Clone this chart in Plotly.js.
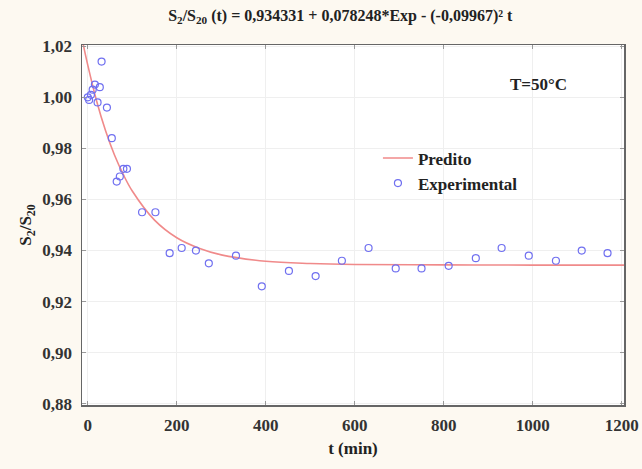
<!DOCTYPE html>
<html><head><meta charset="utf-8">
<script src="https://cdn.plot.ly/plotly-3.0.1.min.js"></script>
<style>html,body{margin:0;padding:0;background:#fdf9f1;}</style>
</head><body>
<div id="chart" style="width:642px;height:469px;"></div>
<script>
// Experimental points
const expT = [0, 3, 7, 11, 16, 22, 27, 31, 43, 54, 65, 72, 80, 88, 122, 152, 184, 211, 243, 272, 333, 391, 452, 512, 571, 631, 692, 750, 811, 872, 930, 991, 1052, 1110, 1168];
const expY = [1.000, 0.999, 1.001, 1.003, 1.005, 0.998, 1.004, 1.014, 0.996, 0.984, 0.967, 0.969, 0.972, 0.972, 0.955, 0.955, 0.939, 0.941, 0.940, 0.935, 0.938, 0.926, 0.932, 0.930, 0.936, 0.941, 0.933, 0.933, 0.934, 0.937, 0.941, 0.938, 0.936, 0.940, 0.939];
// Predicted curve
const predT = [-13, 0, 20, 40, 60, 80, 100, 150, 200, 250, 300, 400, 500, 600, 800, 1000, 1205];
const predY = [1.0230, 1.0126, 0.9985, 0.9869, 0.9774, 0.9697, 0.9633, 0.9519, 0.9450, 0.9409, 0.9383, 0.9358, 0.9349, 0.9345, 0.9344, 0.9343, 0.9343];
const xTicks = [0, 200, 400, 600, 800, 1000, 1200];
const yTicks = [0.88, 0.90, 0.92, 0.94, 0.96, 0.98, 1.00, 1.02];

const serif = "Liberation Serif, Times New Roman, serif";
const traces = [
  {x: predT, y: predY, mode: 'lines', name: 'Predito', line: {color: '#f08a8a', width: 1.6, shape: 'spline'}},
  {x: expT, y: expY, mode: 'markers', name: 'Experimental',
   marker: {symbol: 'circle-open', size: 7, color: '#7070f0', line: {width: 1.2}}}
];
const axisCommon = {
  showline: true, linecolor: '#666', linewidth: 1.5, mirror: 'ticks',
  ticks: 'inside', ticklen: 4, tickcolor: '#999',
  showgrid: true, gridcolor: '#efefef', zeroline: false,
  tickfont: {family: serif, size: 17, color: '#333', weight: 'bold'}
};
const layout = {
  width: 642, height: 469,
  paper_bgcolor: '#fdf9f1', plot_bgcolor: '#ffffff',
  separators: ', ',
  margin: {l: 82, r: 18, t: 45, b: 64},
  title: {text: 'S<sub>2</sub>/S<sub>20</sub> (t) = 0,934331 + 0,078248*Exp - (-0,09967)² t',
    font: {family: serif, size: 16, color: '#222', weight: 'bold'}, x: 0.53, xanchor: 'center', y: 0.968, yanchor: 'middle'},
  xaxis: Object.assign({}, axisCommon, {range: [-13, 1205], tickvals: xTicks, ticktext: xTicks.map(String),
    ticklabelstandoff: 4,
    title: {text: 't (min)', font: {family: serif, size: 17, color: '#222', weight: 'bold'}, standoff: 8}}),
  yaxis: Object.assign({}, axisCommon, {range: [0.8795, 1.0205], tickvals: yTicks, tickformat: '.2f',
    ticklabelstandoff: 5,
    title: {text: 'S<sub>2</sub>/S<sub>20</sub>', font: {family: serif, size: 17, color: '#222', weight: 'bold'}, standoff: 6}}),
  showlegend: true,
  legend: {x: 0.546, y: 0.735, xanchor: 'left', yanchor: 'top', bgcolor: 'rgba(0,0,0,0)',
    font: {family: serif, size: 17, color: '#222', weight: 'bold'}, tracegroupgap: 0, itemwidth: 30},
  annotations: [{x: 0.843, y: 0.889, xref: 'paper', yref: 'paper', text: 'T=50°C', showarrow: false,
    xanchor: 'center', yanchor: 'middle',
    font: {family: serif, size: 17, color: '#222', weight: 'bold'}}]
};
Plotly.newPlot('chart', traces, layout, {staticPlot: true});
</script>
</body></html>
